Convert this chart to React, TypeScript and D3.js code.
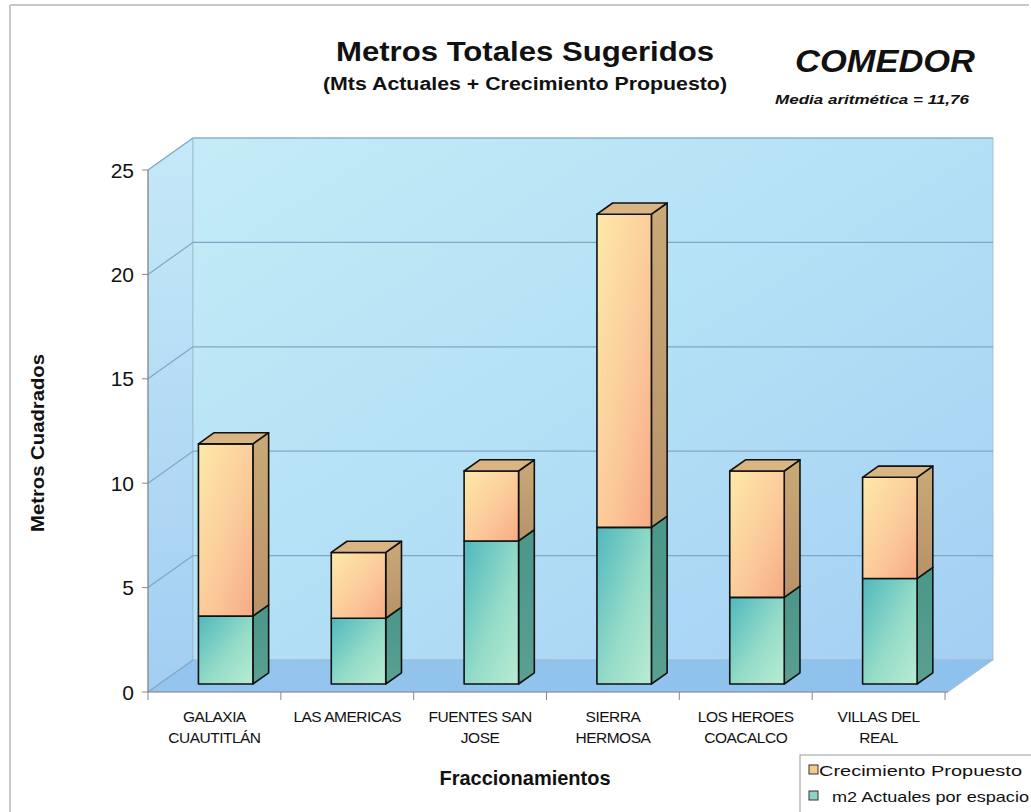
import React from "react";
import * as d3 from "d3";

const categories = ["GALAXIA CUAUTITLÁN", "LAS AMERICAS", "FUENTES SAN JOSE", "SIERRA HERMOSA", "LOS HEROES COACALCO", "VILLAS DEL REAL"];
const categoryLines = [["GALAXIA", "CUAUTITLÁN"], ["LAS AMERICAS"], ["FUENTES SAN", "JOSE"], ["SIERRA", "HERMOSA"], ["LOS HEROES", "COACALCO"], ["VILLAS DEL", "REAL"]];
const actuales = [3.25, 3.15, 6.85, 7.5, 4.15, 5.05];
const crecimiento = [8.25, 3.15, 3.35, 15.0, 6.05, 4.85];
const yTicks = [0, 5, 10, 15, 20, 25];
const seriesNames = ["m2 Actuales por espacio", "Crecimiento Propuesto"];

const W = 1031, H = 812;
const X0 = 148, X1 = 948, Y0 = 692, Y1 = 170;
const DX = 45, DY = -32;
const F0 = 0.25, F1 = 0.6;
const FONT = "'Liberation Sans', Arial, sans-serif";

export default function App() {
  const x = d3.scaleBand<string>().domain(categories).range([X0, X1 - 3]).paddingInner(0).paddingOuter(0);
  const y = d3.scaleLinear().domain([0, 25]).range([Y0, Y1]);
  const data = categories.map((c, i) => ({ cat: c, act: actuales[i], cre: crecimiento[i] }));
  const stack = d3.stack<any>().keys(["act", "cre"]);
  const stacked = stack(data);
  const bw = x.bandwidth() * 0.41;

  const P = (px: number, v: number, f: number) => [px + f * DX, y(v) + f * DY];
  const poly = (pts: number[][]) => pts.map((p) => p.join(",")).join(" ");

  const front = { act: "url(#gTealF)", cre: "url(#gOrF)" } as any;
  const side = { act: "url(#gTealS)", cre: "url(#gOrS)" } as any;
  const topC = { act: "#7cc0b0", cre: "#d8b583" } as any;

  return (
    <svg width={W} height={H} style={{ position: "absolute", left: 0, top: 0, background: "#fff" }}>
      <defs>
        <linearGradient id="gWall" x1="0" y1="0" x2="1" y2="1">
          <stop offset="0" stopColor="#c3ecf6" />
          <stop offset="0.5" stopColor="#b4e0f6" />
          <stop offset="1" stopColor="#a4cff3" />
        </linearGradient>
        <linearGradient id="gSideWall" x1="0" y1="0" x2="0" y2="1">
          <stop offset="0" stopColor="#c6e9f8" />
          <stop offset="1" stopColor="#a2cef2" />
        </linearGradient>
        <linearGradient id="gFloor" x1="0" y1="0" x2="1" y2="0">
          <stop offset="0" stopColor="#93c5ee" />
          <stop offset="1" stopColor="#8ec1ec" />
        </linearGradient>
        <linearGradient id="gOrF" x1="0" y1="0" x2="1" y2="1">
          <stop offset="0" stopColor="#fde9a9" />
          <stop offset="0.6" stopColor="#fbc898" />
          <stop offset="1" stopColor="#f7aa85" />
        </linearGradient>
        <linearGradient id="gOrS" x1="0" y1="0" x2="0" y2="1">
          <stop offset="0" stopColor="#c9a977" />
          <stop offset="1" stopColor="#b8926a" />
        </linearGradient>
        <linearGradient id="gTealF" x1="0" y1="0" x2="1" y2="1">
          <stop offset="0" stopColor="#4fb8bd" />
          <stop offset="0.55" stopColor="#94dbc8" />
          <stop offset="1" stopColor="#b9ecd2" />
        </linearGradient>
        <linearGradient id="gTealS" x1="0" y1="0" x2="0" y2="1">
          <stop offset="0" stopColor="#4a978a" />
          <stop offset="1" stopColor="#5a9f92" />
        </linearGradient>
      </defs>

      {/* chart border */}
      <line x1={10} y1={5} x2={1029} y2={5} stroke="#c8c8c8" strokeWidth={2} />
      <line x1={10} y1={5} x2={10} y2={812} stroke="#c8c8c8" strokeWidth={2} />

      {/* titles */}
      <text x={525} y={61} textAnchor="middle" fontFamily={FONT} fontWeight="bold" fontSize={28} textLength={378} lengthAdjust="spacingAndGlyphs" fill="#111">Metros Totales Sugeridos</text>
      <text x={525} y={90} textAnchor="middle" fontFamily={FONT} fontWeight="bold" fontSize={18} textLength={404} lengthAdjust="spacingAndGlyphs" fill="#111">(Mts Actuales + Crecimiento Propuesto)</text>
      <text x={885} y={72} textAnchor="middle" fontFamily={FONT} fontWeight="bold" fontStyle="italic" fontSize={31} textLength={180} lengthAdjust="spacingAndGlyphs" fill="#111">COMEDOR</text>
      <text x={872} y={104} textAnchor="middle" fontFamily={FONT} fontWeight="bold" fontStyle="italic" fontSize={13} textLength={194} lengthAdjust="spacingAndGlyphs" fill="#111">Media aritmética = 11,76</text>

      {/* walls */}
      <polygon points={poly([[X0, Y0], [X0, Y1], [X0 + DX, Y1 + DY], [X0 + DX, Y0 + DY]])} fill="url(#gSideWall)" stroke="#9ab" strokeWidth={0.6} />
      <rect x={X0 + DX} y={Y1 + DY} width={X1 - X0} height={Y0 - Y1} fill="url(#gWall)" stroke="#9bb8cc" strokeWidth={0.8} />
      <polygon points={poly([[X0, Y0], [X1, Y0], [X1 + DX, Y0 + DY], [X0 + DX, Y0 + DY]])} fill="url(#gFloor)" stroke="#9bb8cc" strokeWidth={0.6} />

      {/* gridlines */}
      {yTicks.map((t) => (
        <g key={t}>
          <line x1={X0} y1={y(t)} x2={X0 + DX} y2={y(t) + DY} stroke="#7fa7c6" strokeWidth={1.2} />
          {t > 0 && <line x1={X0 + DX} y1={y(t) + DY} x2={X1 + DX} y2={y(t) + DY} stroke="#7fa7c6" strokeWidth={1.2} />}
        </g>
      ))}

      {/* axes */}
      <line x1={X0} y1={Y1} x2={X0} y2={Y0} stroke="#888" strokeWidth={1.2} />
      {yTicks.map((t) => (
        <g key={"yt" + t}>
          <line x1={X0 - 6} y1={y(t)} x2={X0} y2={y(t)} stroke="#888" />
          <text x={134} y={y(t) + 7.5} textAnchor="end" fontFamily={FONT} fontSize={21} fill="#111">{t}</text>
        </g>
      ))}
      <line x1={X0} y1={Y0} x2={X1} y2={Y0} stroke="#888" strokeWidth={1.2} />
      {categories.map((c, i) => (
        <line key={"xt" + i} x1={x(c)!} y1={Y0} x2={x(c)!} y2={Y0 + 8} stroke="#888" />
      ))}
      <line x1={X1 - 3} y1={Y0} x2={X1 - 3} y2={Y0 + 8} stroke="#888" />
      {categories.map((c, i) => (
        <text key={"xl" + i} textAnchor="middle" fontFamily={FONT} fontSize={15.5} letterSpacing={-0.5} fill="#111">
          {categoryLines[i].map((ln, j) => (
            <tspan key={j} x={x(c)! + x.bandwidth() / 2} y={722 + j * 21}>{ln}</tspan>
          ))}
        </text>
      ))}

      {/* bars */}
      {categories.map((c, i) => {
        const xl = x(c)! + x.bandwidth() / 2 - bw / 2;
        const xr = xl + bw;
        return (
          <g key={"b" + i}>
            {stacked.map((s, si) => {
              const key = s.key;
              const [v0, v1] = s[i];
              const fa = P(xl, v0, F0), fb = P(xr, v0, F0), fc = P(xr, v1, F0), fd = P(xl, v1, F0);
              const sb = P(xr, v0, F1), sc = P(xr, v1, F1), sd = P(xl, v1, F1);
              const isTop = si === stacked.length - 1;
              return (
                <g key={key} stroke="#111" strokeWidth={1.6} strokeLinejoin="round">
                  <polygon points={poly([fb, sb, sc, fc])} fill={side[key]} />
                  <polygon points={poly([fa, fb, fc, fd])} fill={front[key]} />
                  {isTop && <polygon points={poly([fd, fc, sc, sd])} fill={topC[key]} />}
                </g>
              );
            })}
          </g>
        );
      })}

      {/* axis titles */}
      <text transform="translate(44,443) rotate(-90)" textAnchor="middle" fontFamily={FONT} fontWeight="bold" fontSize={18} textLength={178} lengthAdjust="spacingAndGlyphs" fill="#111">Metros Cuadrados</text>
      <text x={525} y={785} textAnchor="middle" fontFamily={FONT} fontWeight="bold" fontSize={20} textLength={171} lengthAdjust="spacingAndGlyphs" fill="#111">Fraccionamientos</text>

      {/* legend */}
      <rect x={800} y={755} width={240} height={70} fill="#fff" stroke="#999" strokeWidth={1} />
      {[seriesNames[1], seriesNames[0]].map((n, k) => (
        <g key={n}>
          <rect x={809} y={765 + k * 26} width={9} height={9} fill={k === 0 ? "#f6c98e" : "#8fd3c4"} stroke="#333" strokeWidth={1} />
          <text x={k === 0 ? 819 : 832} y={776 + k * 26} fontFamily={FONT} fontSize={15} textLength={k === 0 ? 203 : 197} lengthAdjust="spacingAndGlyphs" fill="#111">{n}</text>
        </g>
      ))}
    </svg>
  );
}
